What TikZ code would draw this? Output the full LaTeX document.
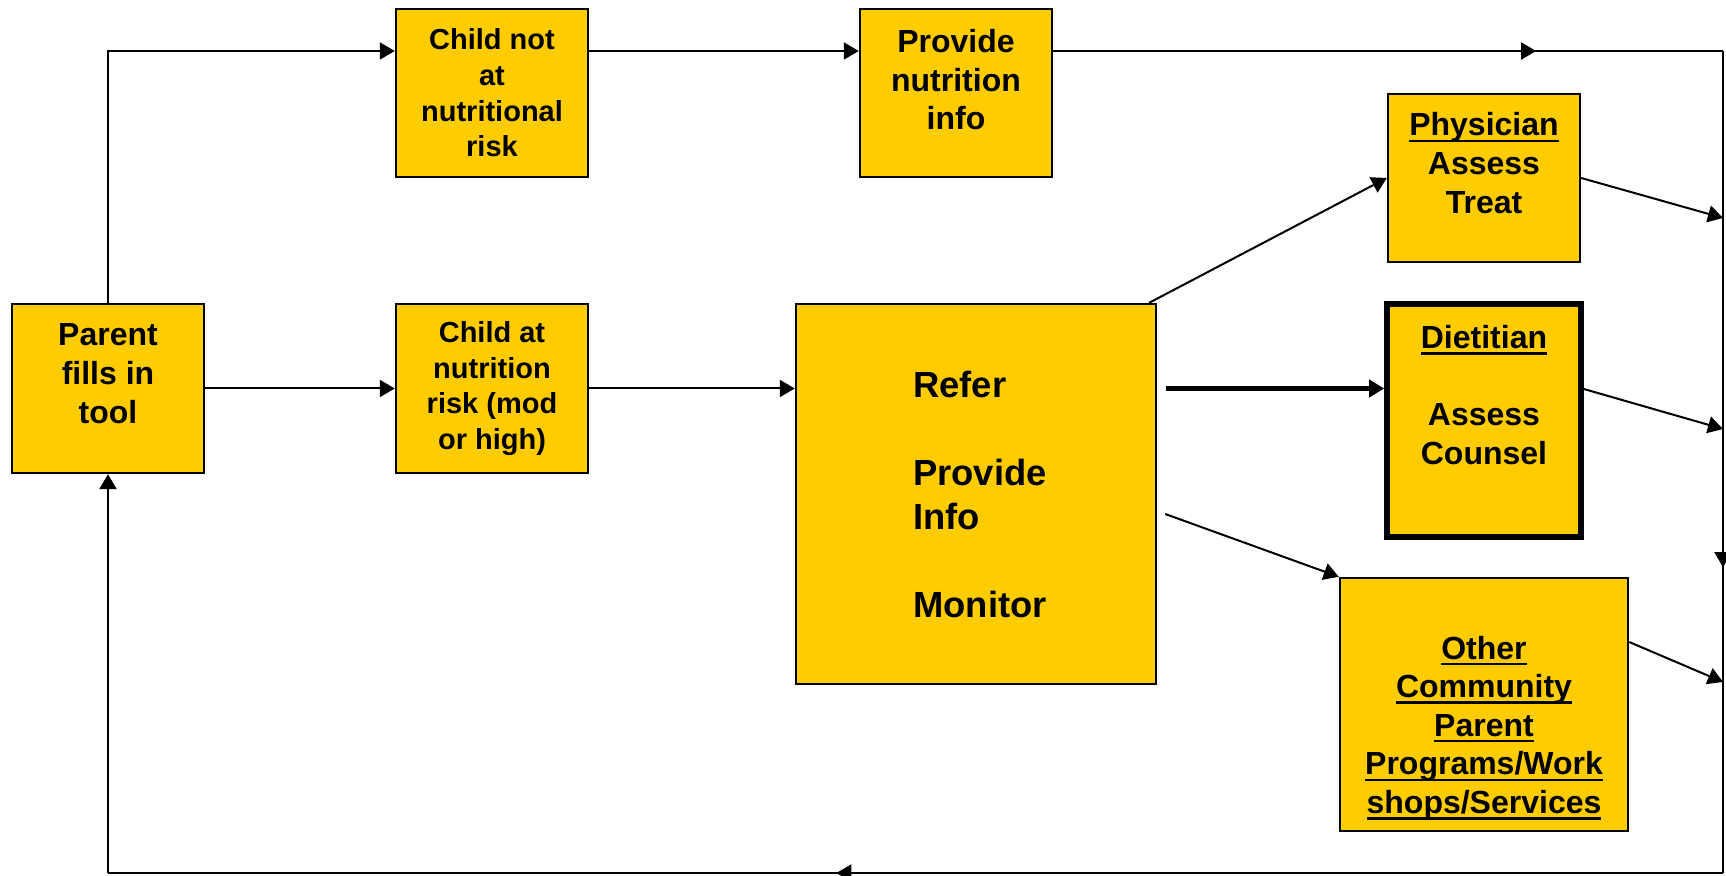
\documentclass[tikz,border=0pt]{standalone}
\usepackage{fontspec}
\setmainfont{Liberation Sans}
\usetikzlibrary{arrows.meta,decorations.markings}

\definecolor{boxfill}{HTML}{FFCC00}
\newcommand{\uln}[1]{\setbox0\hbox{#1}\rlap{\vrule width\wd0 height -1.9pt depth 3.1pt}\box0}

\tikzset{
  box/.style={draw=black, line width=1.2pt, fill=boxfill, align=center, inner sep=0pt,
    font=\bfseries\fontsize{16}{19.3}\selectfont},
  smallbox/.style={box, font=\bfseries\fontsize{14.5}{17.8}\selectfont},
  bigbox/.style={box, align=left, font=\bfseries\fontsize{18.2}{22}\selectfont},
  link/.style={line width=1pt, -{Triangle[length=7.5pt,width=8.5pt]}},
  midarrow/.style={line width=1pt, postaction={decorate},
    decoration={markings, mark=at position #1 with {\arrow{Triangle[length=7.5pt,width=8.5pt]}}}},
}

\begin{document}
\begin{tikzpicture}[x=0.5pt, y=-0.5pt]
  \useasboundingbox (0,0) rectangle (1726,876);

  % Boxes
  \node[box, minimum width=96pt, minimum height=84.5pt] (parent) at (108,388.5) {Parent\\fills in\\tool\\[-4.3pt]\mbox{}};
  \node[smallbox, minimum width=96pt, minimum height=84pt] (notrisk) at (492,93) {Child not\\at\\nutritional\\risk};
  \node[smallbox, minimum width=96pt, minimum height=84.5pt] (atrisk) at (492,388.5) {Child at\\nutrition\\risk (mod\\or high)};
  \node[box, minimum width=96pt, minimum height=84pt] (info) at (956,93) {Provide\\nutrition\\info\\[-5.9pt]\mbox{}};
  \node[bigbox, minimum width=180pt, minimum height=190pt] (refer) at (976,494) {\hspace*{4pt}Refer\\[22pt]\hspace*{4pt}Provide\\\hspace*{4pt}Info\\[22pt]\hspace*{4pt}Monitor};
  \node[box, minimum width=96pt, minimum height=84pt] (phys) at (1484,178) {\uln{Physician}\\Assess\\Treat\\[-4.3pt]\mbox{}};
  \node[box, line width=2.8pt, minimum width=97pt, minimum height=116.5pt] (diet) at (1484,420.5) {\uln{Dietitian}\\[19.3pt]Assess\\Counsel\\[6.2pt]\mbox{}};
  \node[box, minimum width=144pt, minimum height=126.5pt] (other) at (1484,704.5) {\mbox{}\\[15.8pt]\uln{Other}\\\uln{Community}\\\uln{Parent}\\\uln{Programs/Work}\\\uln{shops/Services}};

  % Loop corners
  \coordinate (tl) at (108,51);
  \coordinate (tr) at (1723,51);
  \coordinate (br) at (1723,873);
  \coordinate (bl) at (108,873);

  % Top row
  \draw[link] (parent.north) -- (tl) -- (notrisk.west |- tl);
  \draw[link] (notrisk.east |- tl) -- (info.west |- tl);
  \draw[midarrow=0.721] (info.east |- tl) -- (tr);

  % Back to the parent
  \draw[midarrow=0.628] (tr) -- (br);
  \draw[midarrow=0.549] (br) -- (bl);
  \draw[link] (bl) -- (parent.south);

  % Middle row
  \draw[link] (parent) -- (atrisk);
  \draw[link] (atrisk.east) -- (atrisk.east -| refer.west);

  % Referrals
  \draw[link] ([xshift=-4pt]refer.north east) -- (phys.west);
  \draw[link, line width=2.3pt] ([xshift=4.5pt]refer.east |- atrisk.east) -- (diet.west |- atrisk.east);
  \draw[link] ([shift={(4pt,-10pt)}]refer.east) -- (other.north west);

  % Into the right line
  \draw[link] (phys.east) -- ([yshift=-20pt]phys.east -| tr);
  \draw[link] ([yshift=15.75pt]diet.east) -- ([yshift=-4.25pt]diet.east -| tr);
  \draw[link] ([yshift=31.25pt]other.east) -- ([yshift=11.25pt]other.east -| tr);

\end{tikzpicture}
\end{document}
